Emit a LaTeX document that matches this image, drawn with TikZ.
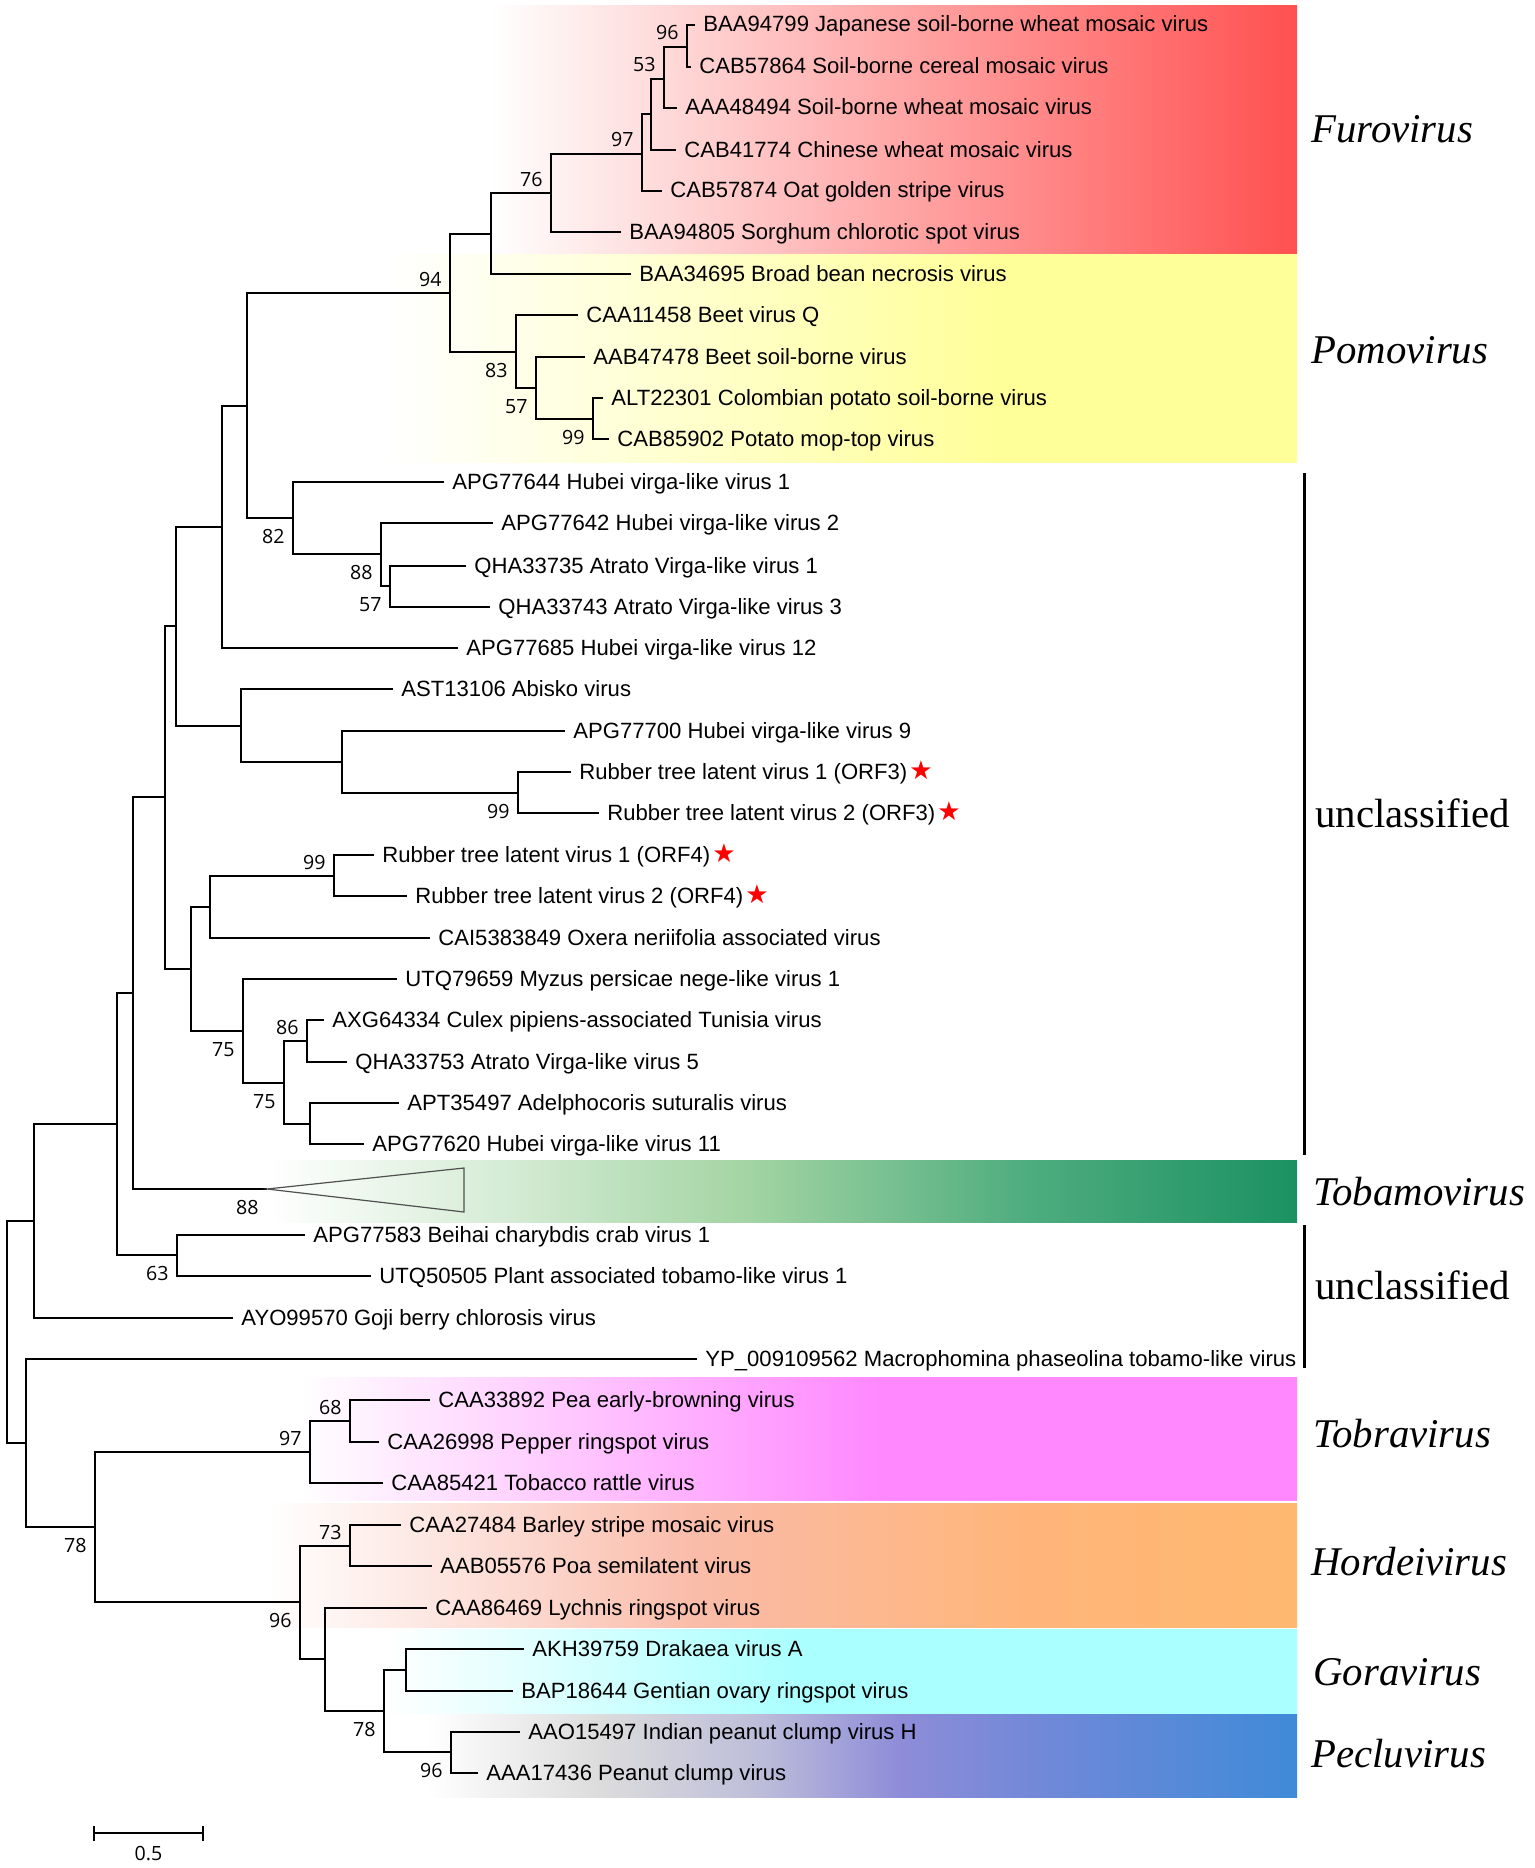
\documentclass[tikz,border=0pt]{standalone}
\usepackage{fontspec}
\usetikzlibrary{calc}
\newfontfamily\leaffont{Liberation Sans}
\newfontfamily\bsfont{Open Sans}
\newfontfamily\cladefont{Liberation Serif}
\newfontfamily\starfont{DejaVu Sans}

\definecolor{furoR}{HTML}{FF5050}
\definecolor{pomoY}{HTML}{FFFF99}
\definecolor{tobaA}{HTML}{D4EBD4}
\definecolor{tobaB}{HTML}{A3D4A3}
\definecolor{tobaC}{HTML}{4FAD7F}
\definecolor{tobaD}{HTML}{1B9162}
\definecolor{tobrP}{HTML}{FF88FF}
\definecolor{horA}{HTML}{FCDAD2}
\definecolor{horB}{HTML}{FABBA8}
\definecolor{horC}{HTML}{FFB57A}
\definecolor{horD}{HTML}{FFB870}
\definecolor{goraC}{HTML}{AAFFFF}
\definecolor{pecA}{HTML}{DCDCDC}
\definecolor{pecB}{HTML}{BDBDDA}
\definecolor{pecC}{HTML}{8E8CD8}
\definecolor{pecD}{HTML}{7489D8}
\definecolor{pecE}{HTML}{3F8AD8}
\definecolor{triline}{HTML}{505050}

\pgfdeclarehorizontalshading{furoSh}{100bp}{color(0bp)=(white); color(25bp)=(white); color(75bp)=(furoR); color(100bp)=(furoR)}
\pgfdeclarehorizontalshading{pomoSh}{100bp}{color(0bp)=(white); color(25bp)=(white); color(58.6bp)=(pomoY); color(100bp)=(pomoY)}
\pgfdeclarehorizontalshading{tobaSh}{100bp}{color(0bp)=(white); color(25bp)=(white); color(36.9bp)=(tobaA); color(48.4bp)=(tobaB); color(61.7bp)=(tobaC); color(75bp)=(tobaD); color(100bp)=(tobaD)}
\pgfdeclarehorizontalshading{tobrSh}{100bp}{color(0bp)=(white); color(25bp)=(white); color(54.1bp)=(tobrP); color(100bp)=(tobrP)}
\pgfdeclarehorizontalshading{horSh}{100bp}{color(0bp)=(white); color(25bp)=(white); color(36.9bp)=(horA); color(46bp)=(horB); color(61.7bp)=(horC); color(75bp)=(horD); color(100bp)=(horD)}
\pgfdeclarehorizontalshading{goraSh}{100bp}{color(0bp)=(white); color(25bp)=(white); color(47.8bp)=(goraC); color(100bp)=(goraC)}
\pgfdeclarehorizontalshading{pecSh}{100bp}{color(0bp)=(white); color(25bp)=(white); color(34.9bp)=(pecA); color(44.1bp)=(pecB); color(52.2bp)=(pecC); color(59.3bp)=(pecD); color(75bp)=(pecE); color(100bp)=(pecE)}

\newcommand{\rstar}{\hspace{1pt}{\starfont\fontsize{13pt}{13pt}\selectfont\textcolor{red}{★}}}
\newcommand{\addleaf}[4]{\coordinate (#1) at (#2,#3); \node[leaf] (#1l) at ($(#1)+(8,7)$) {#4};}
\newcommand{\cladejoin}[3]{\draw[br] (#2) -- (#1 |- #2) -- (#1 |- #3) -- (#3);}
\newcommand{\bootup}[2]{\node[bs] (bs-#1) at ($(#1)+(-8,-7)$) {#2};}
\newcommand{\bootdn}[2]{\node[bs] (bs-#1) at ($(#1)+(-8,25)$) {#2};}

\tikzset{
  br/.style={line width=0.9pt, line join=miter},
  leaf/.style={anchor=base west, inner sep=0pt, font=\leaffont\fontsize{11.05pt}{13pt}\selectfont},
  bs/.style={anchor=base east, inner sep=0pt, font=\bsfont\fontsize{9.8pt}{11pt}\selectfont},
  clade/.style={anchor=base west, inner sep=0pt, font=\cladefont\fontsize{20.4pt}{24pt}\selectfont},
  cladeit/.style={clade, font=\cladefont\itshape\fontsize{20.4pt}{24pt}\selectfont},
  bar/.style={line width=1.5pt},
}

\begin{document}
\begin{tikzpicture}[x=0.5pt, y=-0.5pt]
\fill[white] (0,0) rectangle (1535,1868);
\useasboundingbox (0,0) rectangle (1535,1868);

% colour bands
\shade[shading=furoSh] (490,6) rectangle (1297,253);
\shade[shading=pomoSh] (390,254) rectangle (1297,462);
\shade[shading=tobaSh] (267,1160) rectangle (1297,1222);
\shade[shading=tobrSh] (300,1377) rectangle (1297,1500);
\shade[shading=horSh] (267,1503) rectangle (1297,1627);
\shade[shading=goraSh] (383,1629) rectangle (1297,1713);
\shade[shading=pecSh] (427,1714) rectangle (1297,1797);

% leaves
\addleaf{L1}{695}{25}{BAA94799 Japanese soil-borne wheat mosaic virus}
\addleaf{L2}{691}{67}{CAB57864 Soil-borne cereal mosaic virus}
\addleaf{L3}{677}{108}{AAA48494 Soil-borne wheat mosaic virus}
\addleaf{L4}{676}{150}{CAB41774 Chinese wheat mosaic virus}
\addleaf{L5}{662}{191}{CAB57874 Oat golden stripe virus}
\addleaf{L6}{621}{232}{BAA94805 Sorghum chlorotic spot virus}
\addleaf{L7}{631}{274}{BAA34695 Broad bean necrosis virus}
\addleaf{L8}{578}{315}{CAA11458 Beet virus Q}
\addleaf{L9}{585}{357}{AAB47478 Beet soil-borne virus}
\addleaf{L10}{603}{398}{ALT22301 Colombian potato soil-borne virus}
\addleaf{L11}{609}{439}{CAB85902 Potato mop-top virus}
\addleaf{L12}{444}{482}{APG77644 Hubei virga-like virus 1}
\addleaf{L13}{493}{523}{APG77642 Hubei virga-like virus 2}
\addleaf{L14}{466}{566}{QHA33735 Atrato Virga-like virus 1}
\addleaf{L15}{490}{607}{QHA33743 Atrato Virga-like virus 3}
\addleaf{L16}{458}{648}{APG77685 Hubei virga-like virus 12}
\addleaf{L17}{393}{689}{AST13106 Abisko virus}
\addleaf{L18}{565}{731}{APG77700 Hubei virga-like virus 9}
\addleaf{L19}{571}{772}{Rubber tree latent virus 1 (ORF3)\rstar}
\addleaf{L20}{599}{813}{Rubber tree latent virus 2 (ORF3)\rstar}
\addleaf{L21}{374}{855}{Rubber tree latent virus 1 (ORF4)\rstar}
\addleaf{L22}{407}{896}{Rubber tree latent virus 2 (ORF4)\rstar}
\addleaf{L23}{430}{938}{CAI5383849 Oxera neriifolia associated virus}
\addleaf{L24}{397}{979}{UTQ79659 Myzus persicae nege-like virus 1}
\addleaf{L25}{324}{1020}{AXG64334 Culex pipiens-associated Tunisia virus}
\addleaf{L26}{347}{1062}{QHA33753 Atrato Virga-like virus 5}
\addleaf{L27}{399}{1103}{APT35497 Adelphocoris suturalis virus}
\addleaf{L28}{364}{1144}{APG77620 Hubei virga-like virus 11}
\coordinate (tobA) at (267,1189);
\addleaf{L29}{305}{1235}{APG77583 Beihai charybdis crab virus 1}
\addleaf{L30}{371}{1276}{UTQ50505 Plant associated tobamo-like virus 1}
\addleaf{L31}{233}{1318}{AYO99570 Goji berry chlorosis virus}
\addleaf{L32}{697}{1359}{YP\_009109562 Macrophomina phaseolina tobamo-like virus}
\addleaf{L33}{430}{1400}{CAA33892 Pea early-browning virus}
\addleaf{L34}{379}{1442}{CAA26998 Pepper ringspot virus}
\addleaf{L35}{383}{1483}{CAA85421 Tobacco rattle virus}
\addleaf{L36}{401}{1525}{CAA27484 Barley stripe mosaic virus}
\addleaf{L37}{432}{1566}{AAB05576 Poa semilatent virus}
\addleaf{L38}{427}{1608}{CAA86469 Lychnis ringspot virus}
\addleaf{L39}{524}{1649}{AKH39759 Drakaea virus A}
\addleaf{L40}{513}{1691}{BAP18644 Gentian ovary ringspot virus}
\addleaf{L41}{520}{1732}{AAO15497 Indian peanut clump virus H}
\addleaf{L42}{478}{1773}{AAA17436 Peanut clump virus}

% internal nodes
\coordinate (n96a) at (687,47);
\coordinate (n53) at (664,79);
\coordinate (n97b) at (651,114);
\coordinate (n97) at (642,154);
\coordinate (n76) at (551,193);
\coordinate (nFB) at (491,234);
\coordinate (n99p) at (593,419);
\coordinate (n57p) at (536,388);
\coordinate (n83) at (516,352);
\coordinate (n94) at (450,293);
\coordinate (n57a) at (390,586);
\coordinate (n88a) at (381,554);
\coordinate (n82) at (293,518);
\coordinate (nA) at (247,406);
\coordinate (nB) at (222,527);
\coordinate (n99r) at (518,793);
\coordinate (nC) at (342,762);
\coordinate (nD) at (241,726);
\coordinate (nE) at (176,626);
\coordinate (n99s) at (334,876);
\coordinate (nF) at (210,907);
\coordinate (n86) at (307,1041);
\coordinate (nG) at (310,1124);
\coordinate (n75b) at (284,1083);
\coordinate (n75a) at (243,1031);
\coordinate (nH) at (191,969);
\coordinate (nI) at (165,797);
\coordinate (n88t) at (133,993);
\coordinate (n63) at (177,1255);
\coordinate (nJ) at (117,1124);
\coordinate (nK) at (34,1221);
\coordinate (n68) at (350,1421);
\coordinate (n97t) at (310,1452);
\coordinate (n73) at (350,1546);
\coordinate (nGo) at (406,1670);
\coordinate (n96pe) at (451,1752);
\coordinate (n78b) at (384,1711);
\coordinate (nL) at (325,1659);
\coordinate (n96h) at (300,1602);
\coordinate (n78) at (95,1527);
\coordinate (nM) at (26,1443);
\coordinate (root) at (7,1332);

% branches
\cladejoin{n96a}{L1}{L2}
\cladejoin{n53}{n96a}{L3}
\cladejoin{n97b}{n53}{L4}
\cladejoin{n97}{n97b}{L5}
\cladejoin{n76}{n97}{L6}
\cladejoin{nFB}{n76}{L7}
\cladejoin{n99p}{L10}{L11}
\cladejoin{n57p}{L9}{n99p}
\cladejoin{n83}{L8}{n57p}
\cladejoin{n94}{nFB}{n83}
\cladejoin{n57a}{L14}{L15}
\cladejoin{n88a}{L13}{n57a}
\cladejoin{n82}{L12}{n88a}
\cladejoin{nA}{n94}{n82}
\cladejoin{nB}{nA}{L16}
\cladejoin{n99r}{L19}{L20}
\cladejoin{nC}{L18}{n99r}
\cladejoin{nD}{L17}{nC}
\cladejoin{nE}{nB}{nD}
\cladejoin{n99s}{L21}{L22}
\cladejoin{nF}{n99s}{L23}
\cladejoin{n86}{L25}{L26}
\cladejoin{nG}{L27}{L28}
\cladejoin{n75b}{n86}{nG}
\cladejoin{n75a}{L24}{n75b}
\cladejoin{nH}{nF}{n75a}
\cladejoin{nI}{nE}{nH}
\cladejoin{n88t}{nI}{tobA}
\cladejoin{n63}{L29}{L30}
\cladejoin{nJ}{n88t}{n63}
\cladejoin{nK}{nJ}{L31}
\cladejoin{n68}{L33}{L34}
\cladejoin{n97t}{n68}{L35}
\cladejoin{n73}{L36}{L37}
\cladejoin{nGo}{L39}{L40}
\cladejoin{n96pe}{L41}{L42}
\cladejoin{n78b}{nGo}{n96pe}
\cladejoin{nL}{L38}{n78b}
\cladejoin{n96h}{n73}{nL}
\cladejoin{n78}{n97t}{n96h}
\cladejoin{nM}{L32}{n78}
\cladejoin{root}{nK}{nM}

% collapsed Tobamovirus clade
\draw[triline, line width=0.6pt, line join=miter] (tobA) -- (464,1168) -- (464,1212) -- cycle;

% bootstrap values
\bootup{n96a}{96}
\bootup{n53}{53}
\bootup{n97}{97}
\bootup{n76}{76}
\bootup{n94}{94}
\bootdn{n83}{83}
\bootdn{n57p}{57}
\bootdn{n99p}{99}
\bootdn{n82}{82}
\bootdn{n88a}{88}
\bootdn{n57a}{57}
\bootdn{n99r}{99}
\bootup{n99s}{99}
\bootup{n86}{86}
\bootdn{n75a}{75}
\bootdn{n75b}{75}
\bootdn{tobA}{88}
\bootdn{n63}{63}
\bootup{n68}{68}
\bootup{n97t}{97}
\bootdn{n78}{78}
\bootup{n73}{73}
\bootdn{n96h}{96}
\bootdn{n78b}{78}
\bootdn{n96pe}{96}

% clade labels and bars
\node[cladeit] (cFuro) at (1311,142) {Furovirus};
\node[cladeit] (cPomo) at (1311,363) {Pomovirus};
\coordinate (u1t) at (1304,473);
\coordinate (u1b) at (1304,1155);
\draw[bar] (u1t) -- (u1b);
\node[clade] (cUn1) at (1315,827) {unclassified};
\node[cladeit] (cToba) at (1313,1205) {Tobamovirus};
\coordinate (u2t) at (1304,1225);
\coordinate (u2b) at (1304,1368);
\draw[bar] (u2t) -- (u2b);
\node[clade] (cUn2) at (1315,1299) {unclassified};
\node[cladeit] (cTobr) at (1313,1447) {Tobravirus};
\node[cladeit] (cHor) at (1311,1575) {Hordeivirus};
\node[cladeit] (cGora) at (1313,1685) {Goravirus};
\node[cladeit] (cPec) at (1311,1767) {Pecluvirus};

% scale bar
\coordinate (sbL) at (94,1833);
\coordinate (sbR) at (203,1833);
\draw[br] (sbL) -- (sbR);
\draw[br] ($(sbL)+(0,-7)$) -- ($(sbL)+(0,8)$);
\draw[br] ($(sbR)+(0,-7)$) -- ($(sbR)+(0,8)$);
\node[bs, anchor=base] (sbT) at (148.5,1860) {0.5};
\end{tikzpicture}
\end{document}
